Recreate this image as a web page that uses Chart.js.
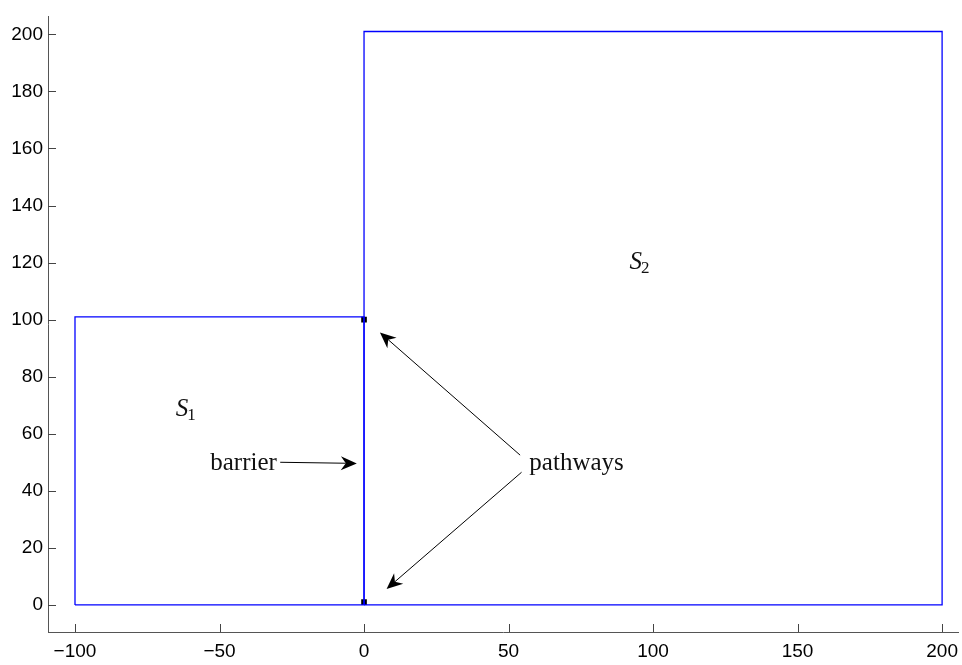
<!DOCTYPE html>
<html lang="en">
<head>
  <meta charset="UTF-8" />
  <title>Two regions S1 and S2 with a barrier</title>
  <script src="https://cdn.jsdelivr.net/npm/chart.js"></script>
  <style>
    html, body { margin: 0; padding: 0; background: #fff; }
    #wrap { width: 962px; height: 665px; }
  </style>
</head>
<body>
  <div id="wrap"><canvas id="regionChart"></canvas></div>

  <script>
    // axis ticks
    const xTicks = [-100, -50, 0, 50, 100, 150, 200];
    const yTicks = [0, 20, 40, 60, 80, 100, 120, 140, 160, 180, 200];

    // region outlines (x, y corners)
    const s1X = [-100, 0, 0, -100, -100];
    const s1Y = [0, 0, 101, 101, 0];
    const s2X = [0, 200, 200, 0, 0];
    const s2Y = [0, 0, 201, 201, 0];

    // pathway end points on the barrier
    const pathX = [0, 0];
    const pathY = [100, 1];

    // annotation arrows: tail -> head, data units
    const arrowTailX = [-29, 54, 54.5];
    const arrowTailY = [50, 52.5, 46.5];
    const arrowHeadX = [-2.5, 5.5, 7.8];
    const arrowHeadY = [49.6, 95.5, 5.6];

    // text labels
    const labelText = ["barrier", "pathways"];
    const labelX = [-53.2, 57.2];
    const labelY = [49.6, 49.6];
    const regionNames = ["S", "S"];
    const regionSubs = ["1", "2"];
    const regionX = [-61.5, 95.5];
    const regionY = [68.5, 120];

    function toPoints(xs, ys) {
      return xs.map((x, i) => ({ x: x, y: ys[i] }));
    }

    const annotations = {
      id: "annotations",
      afterDraw(chart) {
        const ctx = chart.ctx;
        const xs = chart.scales.x;
        const ys = chart.scales.y;
        const area = chart.chartArea;

        // inward tick marks
        ctx.save();
        ctx.strokeStyle = "#444";
        ctx.lineWidth = 1;
        ctx.beginPath();
        xTicks.forEach(v => {
          const px = Math.round(xs.getPixelForValue(v)) + 0.5;
          ctx.moveTo(px, area.bottom);
          ctx.lineTo(px, area.bottom - 8);
        });
        yTicks.forEach(v => {
          const py = Math.round(ys.getPixelForValue(v)) + 0.5;
          ctx.moveTo(area.left, py);
          ctx.lineTo(area.left + 8, py);
        });
        ctx.stroke();

        // arrows
        ctx.fillStyle = "#000";
        ctx.strokeStyle = "#000";
        arrowTailX.forEach((tx, i) => {
          const x1 = xs.getPixelForValue(tx), y1 = ys.getPixelForValue(arrowTailY[i]);
          const x2 = xs.getPixelForValue(arrowHeadX[i]), y2 = ys.getPixelForValue(arrowHeadY[i]);
          const a = Math.atan2(y2 - y1, x2 - x1);
          const len = 16, half = 7, notch = 11;
          ctx.beginPath();
          ctx.moveTo(x1, y1);
          ctx.lineTo(x2 - notch * Math.cos(a), y2 - notch * Math.sin(a));
          ctx.stroke();
          ctx.beginPath();
          ctx.moveTo(x2, y2);
          ctx.lineTo(x2 - len * Math.cos(a) + half * Math.sin(a), y2 - len * Math.sin(a) - half * Math.cos(a));
          ctx.lineTo(x2 - notch * Math.cos(a), y2 - notch * Math.sin(a));
          ctx.lineTo(x2 - len * Math.cos(a) - half * Math.sin(a), y2 - len * Math.sin(a) + half * Math.cos(a));
          ctx.closePath();
          ctx.fill();
        });

        // text
        ctx.fillStyle = "#111";
        ctx.textBaseline = "middle";
        ctx.textAlign = "left";
        ctx.font = "25px 'Liberation Serif'";
        labelText.forEach((t, i) => {
          ctx.fillText(t, xs.getPixelForValue(labelX[i]), ys.getPixelForValue(labelY[i]));
        });
        regionNames.forEach((t, i) => {
          const px = xs.getPixelForValue(regionX[i]);
          const py = ys.getPixelForValue(regionY[i]);
          ctx.font = "italic 25px 'Liberation Serif'";
          ctx.textAlign = "right";
          ctx.fillText(t, px + 2, py);
          ctx.font = "17px 'Liberation Serif'";
          ctx.textAlign = "left";
          ctx.fillText(regionSubs[i], px + 1, py + 6);
        });
        ctx.restore();
      }
    };

    const ctx = document.getElementById("regionChart").getContext("2d");

    new Chart(ctx, {
      type: "scatter",
      data: {
        datasets: [
          {
            data: toPoints(s1X, s1Y),
            showLine: true,
            borderColor: "#0000ff",
            borderWidth: 1.3,
            pointRadius: 0,
            fill: false
          },
          {
            data: toPoints(s2X, s2Y),
            showLine: true,
            borderColor: "#0000ff",
            borderWidth: 1.3,
            pointRadius: 0,
            fill: false
          },
          {
            data: toPoints(pathX, pathY),
            showLine: false,
            pointStyle: "rect",
            pointRadius: 4,
            backgroundColor: "#000",
            borderColor: "#000",
            borderWidth: 0
          }
        ]
      },
      plugins: [annotations],
      options: {
        responsive: true,
        maintainAspectRatio: false,
        animation: false,
        events: [],
        layout: { padding: { top: 16, right: 0, left: 0, bottom: 0 } },
        plugins: {
          legend: { display: false },
          tooltip: { enabled: false }
        },
        scales: {
          x: {
            type: "linear",
            min: -109.34,
            max: 205.5,
            afterBuildTicks: s => { s.ticks = xTicks.map(v => ({ value: v })); },
            afterFit: s => { s.height = 33; },
            grid: { display: true, drawOnChartArea: false, drawTicks: false },
            border: { display: true, color: "#555", width: 1 },
            ticks: {
              color: "#000",
              padding: 2,
              maxRotation: 0,
              font: { family: "'Liberation Sans', Arial", size: 19, lineHeight: 1.83 },
              callback: v => String(v).replace("-", "\u2212")
            }
          },
          y: {
            type: "linear",
            min: -9.5,
            max: 206.3,
            afterBuildTicks: s => { s.ticks = yTicks.map(v => ({ value: v })); },
            afterFit: s => { s.width = 48; },
            grid: { display: true, drawOnChartArea: false, drawTicks: false },
            border: { display: true, color: "#555", width: 1 },
            ticks: {
              color: "#000",
              padding: 5,
              font: { family: "'Liberation Sans', Arial", size: 19 }
            }
          }
        }
      }
    });
  </script>
</body>
</html>
